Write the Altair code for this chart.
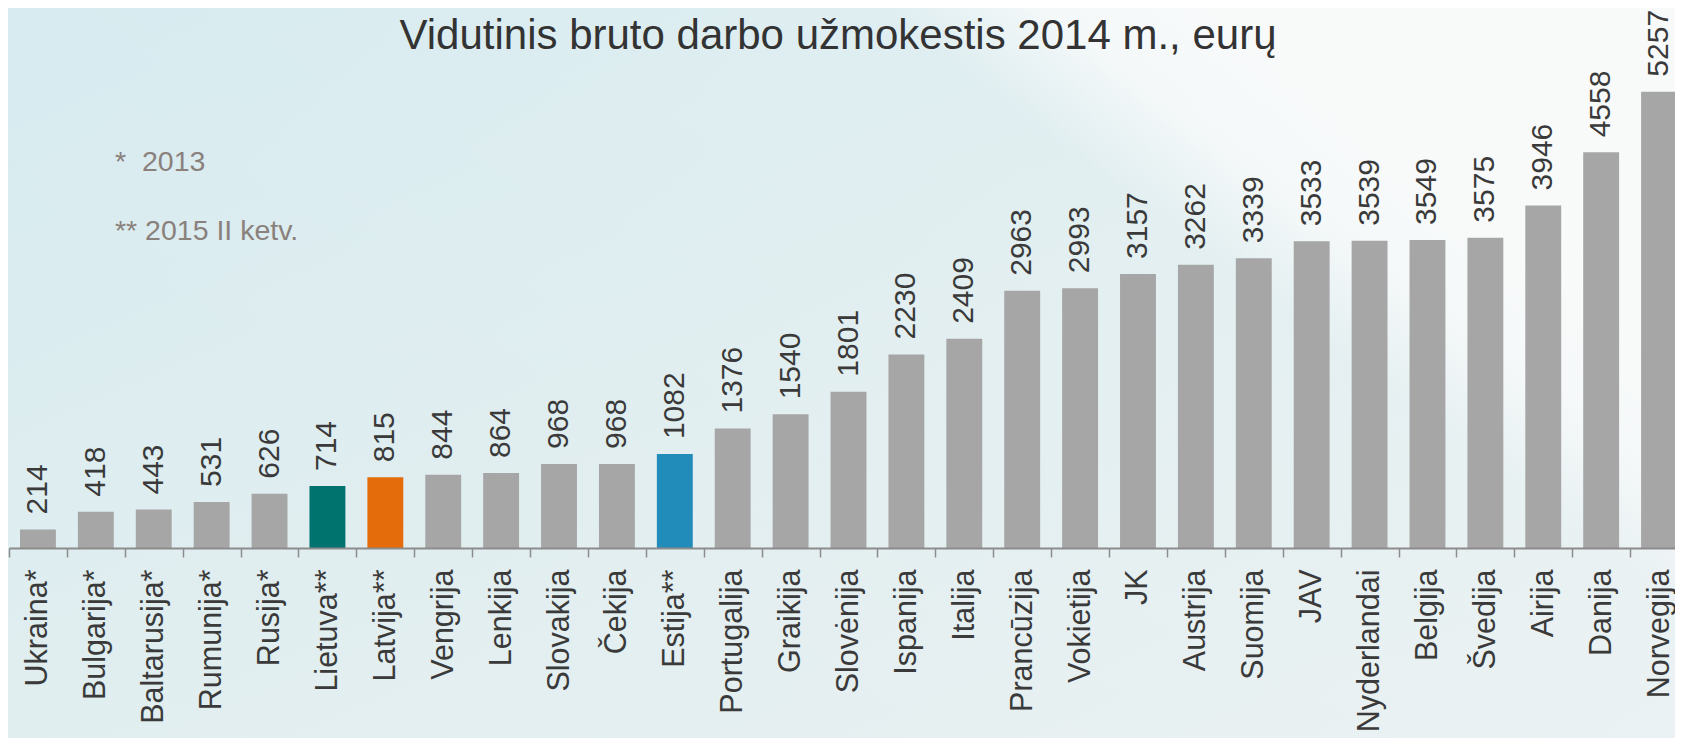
import altair as alt
import pandas as pd

categories = ["Ukraina*", "Bulgarija*", "Baltarusija*", "Rumunija*", "Rusija*",
              "Lietuva**", "Latvija**", "Vengrija", "Lenkija", "Slovakija", "Čekija",
              "Estija**", "Portugalija", "Graikija", "Slovėnija", "Ispanija", "Italija",
              "Prancūzija", "Vokietija", "JK", "Austrija", "Suomija", "JAV",
              "Nyderlandai", "Belgija", "Švedija", "Airija", "Danija", "Norvegija"]
values = [214, 418, 443, 531, 626, 714, 815, 844, 864, 968, 968, 1082, 1376, 1540,
          1801, 2230, 2409, 2963, 2993, 3157, 3262, 3339, 3533, 3539, 3549, 3575,
          3946, 4558, 5257]
highlight = {"Lietuva**": "#00736f", "Latvija**": "#e46c0a", "Estija**": "#218bba"}
base_color = "#a6a6a6"
colors = [highlight.get(c, base_color) for c in categories]
title_text = "Vidutinis bruto darbo užmokestis 2014 m., eurų"
footnotes = ["*\u00a0 2013", "** 2015 II ketv."]

FONT = "Liberation Sans"
W, H = 1666, 520
PT, PB, PL, PR = 20, 190, 1, 0
X_EXTENT = 1679  # band range extends past the right edge, as in the cropped original

df = pd.DataFrame({"country": categories, "value": values, "color": colors})

x = alt.X("country:N", sort=categories, title=None,
          scale=alt.Scale(range=[0, X_EXTENT], paddingInner=0, paddingOuter=0),
          axis=alt.Axis(labelAngle=270, labelFontSize=30.5, labelFont=FONT,
                        labelColor="#3a3a3a", labelPadding=12, tickSize=9,
                        tickWidth=1.5, tickColor="#8c8c8c", domainColor="#8c8c8c",
                        domainWidth=2, tickBand="extent", labelOverlap=False,
                        labelLimit=0, zindex=1))
y = alt.Y("value:Q", scale=alt.Scale(domain=[0, 5990], nice=False), axis=None)

bg = alt.Chart(pd.DataFrame({"a": [0]})).mark_rect(
    color=alt.Gradient(
        gradient="linear",
        stops=[alt.GradientStop(offset=0, color="#d6ebf0"),
               alt.GradientStop(offset=0.5, color="#e1eef0"),
               alt.GradientStop(offset=1, color="#eaf1f2")],
        x1=0, y1=0, x2=1, y2=1)
).encode(x=alt.value(-PL), x2=alt.value(W + PR), y=alt.value(-PT), y2=alt.value(H + PB))

wedge = alt.Chart(pd.DataFrame({"a": [0]})).mark_rect(
    color=alt.Gradient(
        gradient="linear",
        stops=[alt.GradientStop(offset=0, color="rgba(250,251,251,0)"),
               alt.GradientStop(offset=0.8, color="rgba(250,251,251,0.08)"),
               alt.GradientStop(offset=0.853, color="rgba(250,251,251,0.45)"),
               alt.GradientStop(offset=0.9, color="rgba(250,251,251,0.8)"),
               alt.GradientStop(offset=1, color="rgba(250,251,251,0.92)")],
        x1=0.2, y1=0.8, x2=0.937, y2=0.37)
).encode(x=alt.value(-PL), x2=alt.value(W + PR), y=alt.value(-PT), y2=alt.value(H + PB))

bars = alt.Chart(df).mark_bar(width=alt.RelativeBandSize(0.62)).encode(
    x=x, y=y, color=alt.Color("color:N", scale=None))

labels = alt.Chart(df).mark_text(angle=270, align="left", baseline="middle", dx=15,
                                 fontSize=30, font=FONT, color="#3a3a3a").encode(
    x=x, y=y, text=alt.Text("value:Q", format="d"))

fn1 = alt.Chart(pd.DataFrame({"t": [footnotes[0]]})).mark_text(
    align="left", baseline="alphabetic", fontSize=28.5, font=FONT, color="#8a817c"
).encode(x=alt.value(106), y=alt.value(143), text="t:N")

fn2 = alt.Chart(pd.DataFrame({"t": [footnotes[1]]})).mark_text(
    align="left", baseline="alphabetic", fontSize=28.5, font=FONT, color="#8a817c"
).encode(x=alt.value(106), y=alt.value(212), text="t:N")

chart = alt.layer(bg, wedge, bars, labels, fn1, fn2).properties(
    width=W, height=H,
    autosize=alt.AutoSizeParams(type="none"),
    padding={"left": PL, "top": PT, "right": PR, "bottom": PB},
    background="#e6f0f1",
    title=alt.TitleParams(title_text, fontSize=42, font=FONT, fontWeight="normal",
                          color="#333333", anchor="middle", frame="group",
                          baseline="alphabetic", offset=-83, dx=-4),
).configure_view(stroke=None)

chart.save("out.html", embed_options={"renderer": "svg", "actions": False})
